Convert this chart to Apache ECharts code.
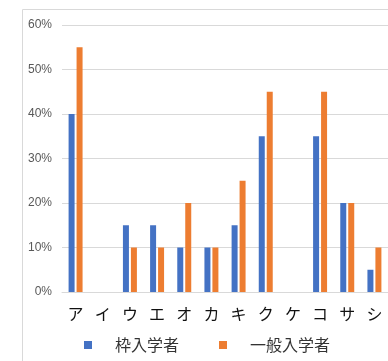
<!DOCTYPE html>
<html>
<head>
<meta charset="utf-8">
<script src="https://cdn.jsdelivr.net/npm/echarts@6/dist/echarts.min.js"></script>
<style>
html, body { margin: 0; padding: 0; background: #fff; }
#chart { width: 388px; height: 361px; }
</style>
</head>
<body>
<div id="chart"></div>
<script>
var categories = ['ア', 'イ', 'ウ', 'エ', 'オ', 'カ', 'キ', 'ク', 'ケ', 'コ', 'サ', 'シ'];
var quotaValues = [40, 0, 15, 15, 10, 10, 15, 35, 0, 35, 20, 5];
var generalValues = [55, 0, 10, 10, 20, 10, 25, 45, 0, 45, 20, 10];
var seriesNames = ['枠入学者', '一般入学者'];

var chart = echarts.init(document.getElementById('chart'));
chart.setOption({
    animation: false,
    graphic: [{
        type: 'rect',
        left: 20,
        top: 7,
        shape: { width: 420, height: 420 },
        style: { fill: 'none', stroke: '#d9d9d9', lineWidth: 1 },
        silent: true
    }],
    grid: { left: 62, right: -4, top: 25, bottom: 69 },
    legend: {
        left: 79,
        top: 332,
        icon: 'rect',
        itemWidth: 8,
        itemHeight: 8,
        itemGap: 40,
        textStyle: {
            fontFamily: 'Noto Sans CJK JP',
            fontSize: 16,
            color: '#333',
            padding: [0, 0, 0, 18]
        },
        data: seriesNames
    },
    xAxis: {
        type: 'category',
        data: categories,
        axisLine: { lineStyle: { color: '#d9d9d9' } },
        axisTick: { show: false },
        axisLabel: {
            fontFamily: 'Noto Sans CJK JP',
            fontSize: 16,
            color: '#111',
            margin: 14,
            interval: 0
        }
    },
    yAxis: {
        type: 'value',
        min: 0,
        max: 60,
        interval: 10,
        axisLine: { show: false },
        axisTick: { show: false },
        splitLine: { lineStyle: { color: '#d9d9d9' } },
        axisLabel: {
            formatter: '{value}%',
            fontFamily: 'Liberation Sans',
            fontSize: 12,
            color: '#595959',
            margin: 10
        }
    },
    series: [{
        name: seriesNames[0],
        type: 'bar',
        data: quotaValues,
        barWidth: 6,
        barGap: '33%',
        itemStyle: { color: '#4472C4' }
    }, {
        name: seriesNames[1],
        type: 'bar',
        data: generalValues,
        barWidth: 6,
        itemStyle: { color: '#ED7D31' }
    }]
});
</script>
</body>
</html>
